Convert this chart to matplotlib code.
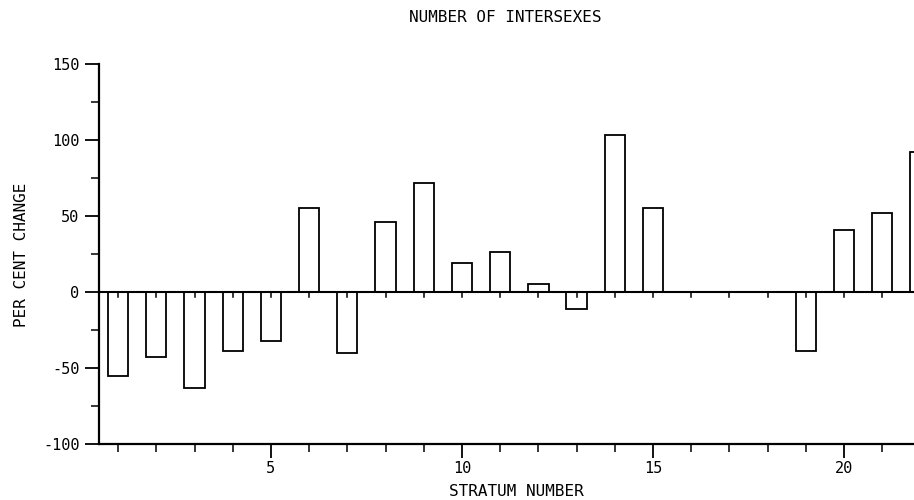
"""
Bar chart of per cent change in the number of intersexes by stratum.
"""
import matplotlib
matplotlib.use("Agg")
import matplotlib.pyplot as plt
from matplotlib.ticker import MultipleLocator

strata = list(range(1, 23))
pct_change = [-55, -43, -63, -39, -32, 55, -40, 46, 72, 19, 26, 5,
              -11, 103, 55, 0, 0, 0, -39, 41, 52, 92]
y_ticks = [-100, -50, 0, 50, 100, 150]
x_ticks = [5, 10, 15, 20]

plt.rcParams["font.family"] = "DejaVu Sans Mono"
fig = plt.figure(figsize=(9.14, 5.0), dpi=100)
ax = fig.add_axes([0.1083, 0.112, 0.8917, 0.76])

ax.bar(strata, pct_change, width=0.53, facecolor="white",
       edgecolor="black", linewidth=1.3, zorder=2)
ax.axhline(0, color="black", linewidth=1.5, zorder=3)

# small ticks hanging from the zero line
for s in strata:
    ax.plot([s, s], [0, -3.5], color="black", linewidth=1.1, zorder=3)

ax.set_xlim(0.5, 21.83)
ax.set_ylim(-100, 150)

ax.spines["top"].set_visible(False)
ax.spines["right"].set_visible(False)
ax.spines["left"].set_linewidth(1.6)
ax.spines["bottom"].set_linewidth(1.6)

ax.set_yticks(y_ticks)
ax.set_yticklabels([str(v) for v in y_ticks])
ax.yaxis.set_minor_locator(MultipleLocator(25))
ax.set_xticks(x_ticks)
ax.set_xticklabels([str(v) for v in x_ticks])
ax.xaxis.set_minor_locator(MultipleLocator(1))
ax.tick_params(which="major", length=10, width=1.3, labelsize=11, pad=4)
ax.tick_params(axis="x", which="major", pad=2)
ax.tick_params(which="minor", length=6, width=1.1)

fig.text(0.553, 0.964, "NUMBER OF INTERSEXES", ha="center", va="center",
         fontsize=11.5)
fig.text(0.5646, 0.018, "STRATUM NUMBER", ha="center", va="center",
         fontsize=11.5)
fig.text(0.023, 0.49, "PER CENT CHANGE", ha="center", va="center",
         rotation=90, fontsize=11.5)

fig.savefig("out.png", dpi=100)
